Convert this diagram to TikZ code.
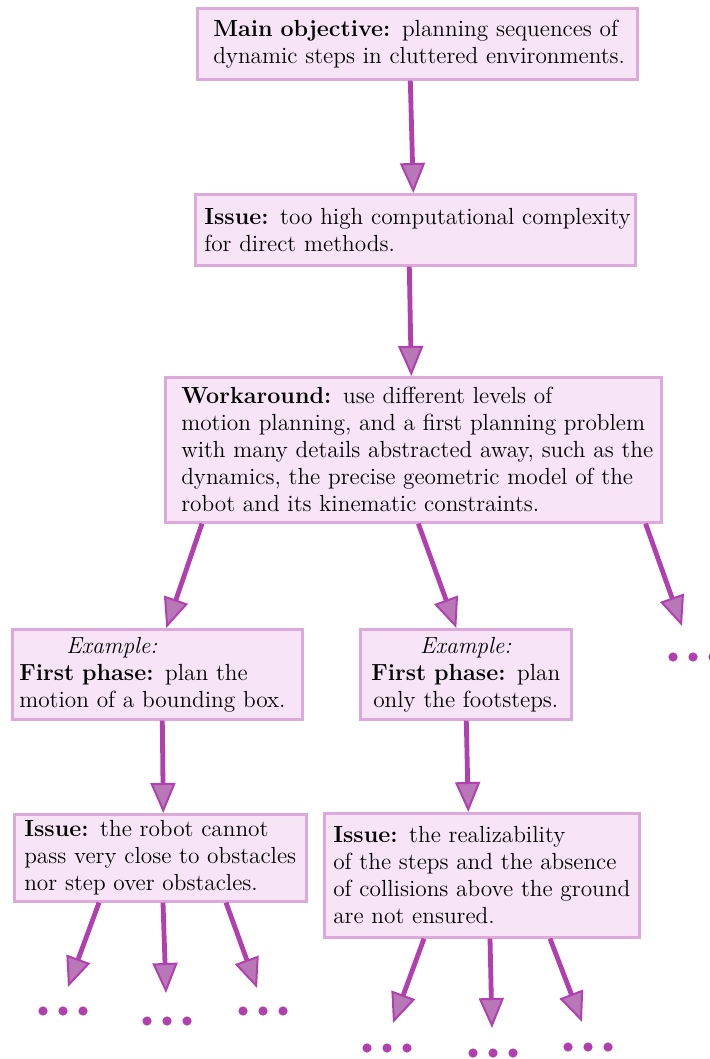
\documentclass[tikz,border=0pt]{standalone}
\usetikzlibrary{arrows.meta}
\definecolor{boxfill}{RGB}{247,228,246}
\definecolor{boxline}{RGB}{221,169,218}
\definecolor{arrline}{RGB}{178,63,176}
\definecolor{arrfill}{RGB}{184,119,183}
\tikzset{
  box/.style={rectangle, draw=boxline, fill=boxfill, line width=1.3pt, anchor=north west,
    inner ysep=0pt, align=left, font=\fontsize{11.65}{13.5}\selectfont},
  conn/.style={draw=arrline, line width=2.4pt,
    -{Triangle[length=15pt,width=12.5pt,fill=arrfill,line width=1pt]}},
}
\begin{document}
\begin{tikzpicture}[x=0.5pt,y=-0.5pt]
\useasboundingbox (0,0) rectangle (709,1059);

\node[box, minimum width=220pt, minimum height=35.5pt, inner xsep=8pt, text width=204pt] (main) at (196,7)
  {\mbox{\textbf{Main objective:} planning sequences of}\\\mbox{dynamic steps in cluttered environments.}};
\node[box, minimum width=220pt, minimum height=35.5pt, inner xsep=4.5pt, text width=211pt] (iss) at (194,193)
  {\mbox{\textbf{Issue:} too high computational complexity}\\\mbox{for direct methods.}};
\node[box, minimum width=248pt, minimum height=72.5pt, inner xsep=8pt, text width=232pt] (work) at (164,376)
  {\mbox{\textbf{Workaround:} use different levels of}\\\mbox{motion planning, and a first planning problem}\\\mbox{with many details abstracted away, such as the}\\\mbox{dynamics, the precise geometric model of the}\\\mbox{robot and its kinematic constraints.}};
\node[box, minimum width=145pt, minimum height=45pt, inner xsep=3.5pt, text width=138pt] (exa) at (11,628)
  {\hspace*{23.5pt}\textit{Example:}\\\mbox{\textbf{First phase:} plan the}\\\mbox{motion of a bounding box.}};
\node[box, align=center, minimum width=105.5pt, minimum height=45pt, inner xsep=3pt, text width=99.5pt] (exb) at (359,628)
  {\textit{Example:}\\\mbox{\textbf{First phase:} plan}\\\mbox{only the footsteps.}};
\node[box, minimum width=146pt, minimum height=43.5pt, inner xsep=5pt, text width=136pt] (isa) at (13,813)
  {\mbox{\textbf{Issue:} the robot cannot}\\\mbox{pass very close to obstacles}\\\mbox{nor step over obstacles.}};
\node[box, minimum width=157.5pt, minimum height=62pt, inner xsep=4.5pt, text width=148.5pt] (isb) at (323,812)
  {\mbox{\textbf{Issue:} the realizability}\\\mbox{of the steps and the absence}\\\mbox{of collisions above the ground}\\\mbox{are not ensured.}};

\coordinate (tr) at (682,626);
\coordinate (ta1) at (68,987);
\coordinate (ta2) at (166,993);
\coordinate (ta3) at (257,988);
\coordinate (tb1) at (393,1023);
\coordinate (tb2) at (492,1028);
\coordinate (tb3) at (582,1022);

\draw[conn] ([xshift=-3.5pt]main.south) -- ([xshift=-1pt]iss.north);
\draw[conn] ([xshift=-3pt]iss.south) -- ([xshift=-1pt]work.north);
\draw[conn] ([xshift=19pt]work.south west) -- ([xshift=4.5pt]exa.north);
\draw[conn] ([xshift=2.5pt]work.south) -- ([xshift=-4.75pt]exb.north);
\draw[conn] ([xshift=-8.5pt]work.south east) -- (tr);
\draw[conn] ([xshift=2.5pt]exa.south) -- ([xshift=1.5pt]isa.north);
\draw[conn] ([xshift=0.25pt]exb.south) -- ([xshift=-6.75pt]isb.north);
\draw[conn] ([xshift=43pt]isa.south west) -- (ta1);
\draw[conn] ([xshift=75pt]isa.south west) -- (ta2);
\draw[conn] ([xshift=106.5pt]isa.south west) -- (ta3);
\draw[conn] ([xshift=50.5pt]isb.south west) -- (tb1);
\draw[conn] ([xshift=83.5pt]isb.south west) -- (tb2);
\draw[conn] ([xshift=113.5pt]isb.south west) -- (tb3);

\foreach \cx/\cy in {693/657, 63/1011, 167/1021, 263/1011, 387/1048, 493/1053, 588/1047}
  \foreach \d in {-20,0,20}
    \fill[arrline] (\cx+\d,\cy) circle (2.3pt);
\end{tikzpicture}
\end{document}
